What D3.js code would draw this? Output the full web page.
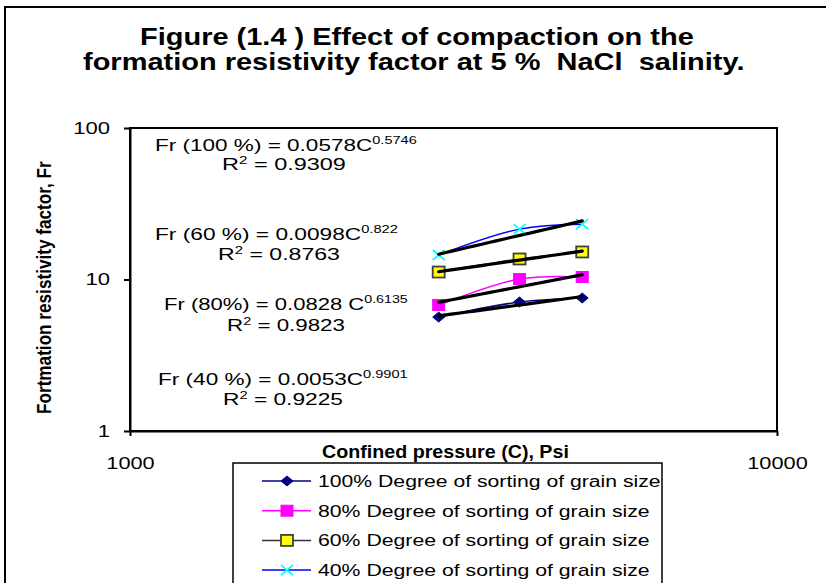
<!DOCTYPE html>
<html>
<head>
<meta charset="utf-8">
<script src="https://cdn.jsdelivr.net/npm/d3@7"></script>
<style>
  body { margin: 0; background: #fff; }
  svg { display: block; }
  text { font-family: "Liberation Sans", Arial, sans-serif; white-space: pre; fill: #000; }
</style>
</head>
<body>
<svg id="chart" width="826" height="583"></svg>
<script>
// ---- data ----
const pressure = [3000, 4000, 5000];                 // confined pressure C, psi
const fr100 = [5.65, 7.10, 7.55];
const fr80  = [6.79, 10.07, 10.39];
const fr60  = [11.2, 13.66, 15.2];
const fr40  = [14.5, 21.5, 23.2];
const seriesNames = [
  "100% Degree of sorting of grain size",
  "80% Degree of sorting of grain size",
  "60% Degree of sorting of grain size",
  "40% Degree of sorting of grain size"
];
// power-law trend Fr = a * C^b, one per series (same order as above)
const trendA = [0.0578, 0.0098, 0.0828, 0.0053];
const trendB = [0.5746, 0.822, 0.6135, 0.9901];
const trendR2 = ["0.9309", "0.8763", "0.9823", "0.9225"];
const trendTag = ["Fr (100 %) = ", "Fr (60 %) = ", "Fr (80%) = ", "Fr (40 %) = "];
const trendSep = ["", "", " ", ""];
const xTicks = [1000, 10000];
const yTicks = [1, 10, 100];

const titleLines = [
  "Figure (1.4 ) Effect of compaction on the",
  "formation resistivity factor at 5 %  NaCl  salinity."
];
const xTitle = "Confined pressure (C), Psi";
const yTitle = "Fortmation resistivity factor, Fr";

// ---- layout ----
const svg = d3.select("#chart");
const plot = { left: 130, right: 777, top: 128, bottom: 431 };
const x = d3.scaleLog().domain([1000, 10000]).range([plot.left, plot.right]);
const y = d3.scaleLog().domain([1, 100]).range([plot.bottom, plot.top]);

// stretch a text node horizontally so its box spans x0..x1
function fitX(node, x0, x1) {
  const b = node.getBBox();
  const k = (x1 - x0) / b.width;
  d3.select(node).attr("transform", `translate(${x0},0) scale(${k},1) translate(${-b.x},0)`);
}

// outer chart frame
svg.append("rect").attr("x", 5).attr("y", 7).attr("width", 900).attr("height", 700)
  .attr("fill", "#fff").attr("stroke", "#000").attr("stroke-width", 2);

// title
const titleSpan = [[140, 694], [83, 745]];
titleLines.forEach((t, i) => {
  const n = svg.append("text").attr("x", 0).attr("y", 45 + i * 25)
    .attr("font-size", 24.5).attr("font-weight", "bold").text(t);
  fitX(n.node(), titleSpan[i][0], titleSpan[i][1]);
});

// plot area border
svg.append("rect").attr("x", plot.left).attr("y", plot.top)
  .attr("width", plot.right - plot.left).attr("height", plot.bottom - plot.top)
  .attr("fill", "none").attr("stroke", "#000").attr("stroke-width", 2);

// axes
const yAxis = svg.append("g").attr("transform", `translate(${plot.left},0)`)
  .call(d3.axisLeft(y).tickValues(yTicks).tickFormat(d3.format("d")).tickSize(6).tickSizeOuter(0).tickPadding(14));
const xAxis = svg.append("g").attr("transform", `translate(0,${plot.bottom})`)
  .call(d3.axisBottom(x).tickValues(xTicks).tickFormat(d3.format("d")).tickSize(5).tickSizeOuter(0).tickPadding(21));
[yAxis, xAxis].forEach(a => {
  a.select(".domain").attr("stroke", "#000").attr("stroke-width", 2);
  a.selectAll(".tick line").attr("stroke", "#000").attr("stroke-width", 2);
  a.selectAll(".tick text").attr("font-size", 17).attr("font-family", "Liberation Sans, Arial, sans-serif").attr("fill", "#000");
});
// widen tick labels about their anchor
yAxis.selectAll(".tick text").each(function () {
  const xa = +d3.select(this).attr("x");
  d3.select(this).attr("transform", `translate(${xa},0) scale(1.3,1) translate(${-xa},0)`);
});
xAxis.selectAll(".tick text").attr("transform", "scale(1.28,1)");

// axis titles
const xt = svg.append("text").attr("y", 458).attr("font-size", 18).attr("font-weight", "bold").text(xTitle);
fitX(xt.node(), 322, 569);
const ytg = svg.append("g").attr("transform", "translate(51,288) rotate(-90)");
const yt = ytg.append("text").attr("y", 0).attr("font-size", 20).attr("font-weight", "bold").text(yTitle);
fitX(yt.node(), -126, 127);

// ---- series ----
const series = [
  { v: fr100, line: "#000080", marker: "diamond", fill: "#000080", stroke: "#000080" },
  { v: fr80,  line: "#FF00FF", marker: "square",  fill: "#FF00FF", stroke: "#FF00FF" },
  { v: fr60,  line: "#333333", marker: "square",  fill: "#FFFF00", stroke: "#404040" },
  { v: fr40,  line: "#0000FF", marker: "cross",   fill: "none",    stroke: "#00FFFF" }
];

function drawMarker(g, type, cx, cy, s) {
  if (type === "diamond") {
    g.append("path").attr("d", `M${cx - 6},${cy}L${cx},${cy - 5}L${cx + 6},${cy}L${cx},${cy + 5}Z`)
      .attr("fill", s.fill).attr("stroke", s.stroke).attr("stroke-width", 1);
  } else if (type === "square") {
    g.append("rect").attr("x", cx - 6).attr("y", cy - 5.5).attr("width", 12).attr("height", 11)
      .attr("fill", s.fill).attr("stroke", s.stroke).attr("stroke-width", s.fill === "#FFFF00" ? 1.8 : 1);
  } else {
    g.append("path").attr("d", `M${cx - 6},${cy - 5}L${cx + 6},${cy + 5}M${cx - 6},${cy + 5}L${cx + 6},${cy - 5}`)
      .attr("fill", "none").attr("stroke", s.stroke).attr("stroke-width", 1.8);
  }
}

const smooth = d3.line().x(d => x(d[0])).y(d => y(d[1])).curve(d3.curveCatmullRom.alpha(0.5));
const gLines = svg.append("g");
const gMarks = svg.append("g");
series.forEach(s => {
  const pts = pressure.map((c, i) => [c, s.v[i]]);
  gLines.append("path").attr("d", smooth(pts)).attr("fill", "none")
    .attr("stroke", s.line).attr("stroke-width", 1.5);
  pts.forEach(p => drawMarker(gMarks, s.marker, x(p[0]), y(p[1]), s));
});

// power-law trendlines (straight in log-log space)
const trendLine = d3.line().x(d => x(d[0])).y(d => y(d[1]));
const cRange = d3.extent(pressure);
series.forEach((s, i) => {
  const pts = d3.range(0, 21).map(k => {
    const c = cRange[0] * Math.pow(cRange[1] / cRange[0], k / 20);
    return [c, trendA[i] * Math.pow(c, trendB[i])];
  });
  svg.append("path").attr("d", trendLine(pts)).attr("fill", "none")
    .attr("stroke", "#000").attr("stroke-width", 3.2).attr("stroke-linecap", "round");
});

// trendline equations
const eqPos = [
  { x0: 155, x1: 417, y: 151, r0: 222, r1: 346, ry: 170 },
  { x0: 155, x1: 398, y: 240, r0: 218, r1: 340, ry: 260 },
  { x0: 164, x1: 408, y: 310, r0: 227, r1: 345, ry: 331 },
  { x0: 158, x1: 408, y: 385, r0: 223, r1: 343, ry: 405 }
];
series.forEach((s, i) => {
  const p = eqPos[i];
  const t = svg.append("text").attr("y", p.y).attr("font-size", 17);
  t.append("tspan").text(`${trendTag[i]}${trendA[i]}${trendSep[i]}C`);
  t.append("tspan").attr("font-size", 11).attr("dy", -7).text(`${trendB[i]}`);
  fitX(t.node(), p.x0, p.x1);
  const r = svg.append("text").attr("y", p.ry).attr("font-size", 17);
  r.append("tspan").text("R");
  r.append("tspan").attr("font-size", 11).attr("dy", -6).text("2");
  r.append("tspan").attr("dy", 6).text(` = ${trendR2[i]}`);
  fitX(r.node(), p.r0, p.r1);
});

// ---- legend ----
const lg = svg.append("g");
lg.append("rect").attr("x", 233).attr("y", 463).attr("width", 429).attr("height", 200)
  .attr("fill", "#fff").attr("stroke", "#000").attr("stroke-width", 1.5);
const legendEnd = [661, 650, 650, 650];
series.forEach((s, i) => {
  const cy = 481 + i * 29.7;
  lg.append("line").attr("x1", 262).attr("x2", 311).attr("y1", cy).attr("y2", cy)
    .attr("stroke", s.line).attr("stroke-width", 1.5);
  drawMarker(lg, s.marker, 287, cy, s);
  const t = lg.append("text").attr("y", cy + 6).attr("font-size", 16).text(seriesNames[i]);
  fitX(t.node(), 318, legendEnd[i]);
});
</script>
</body>
</html>
